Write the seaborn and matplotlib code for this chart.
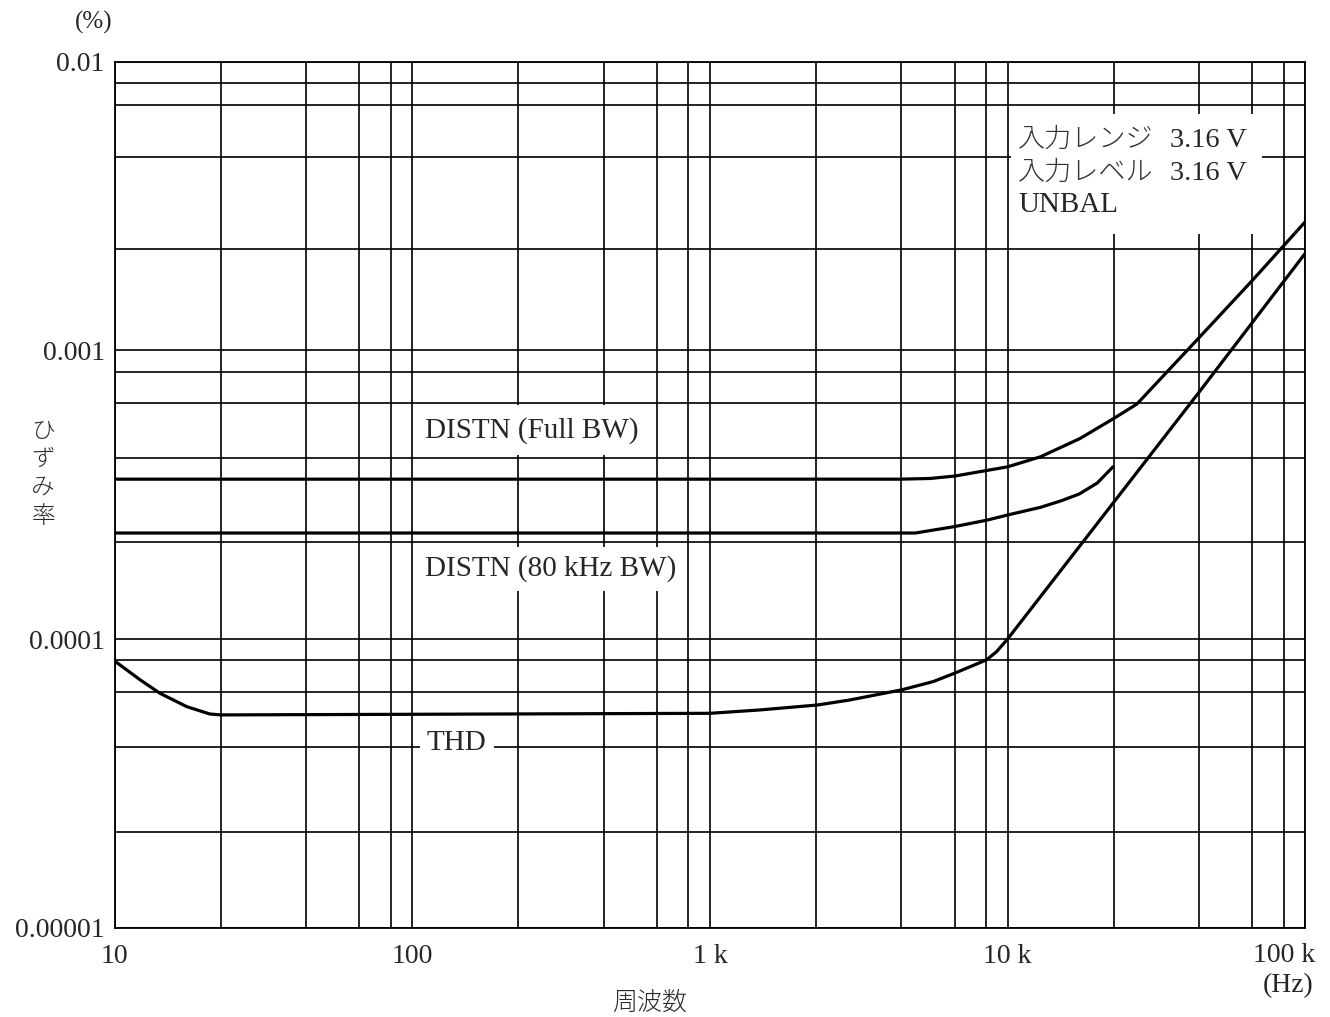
import numpy as np
import pandas as pd
import matplotlib
matplotlib.use('Agg')
import matplotlib.pyplot as plt
from matplotlib.ticker import FixedLocator, NullFormatter
from matplotlib.patches import Rectangle
import seaborn as sns

# Values (frequency in Hz, distortion in %)
freq_full = [10, 4350, 5500, 6650, 10000, 12900, 17500, 22800, 27200, 44100, 66500, 100000]
distn_full = [3.58e-4, 3.58e-4, 3.60e-4, 3.67e-4, 3.95e-4, 4.28e-4, 4.95e-4, 5.82e-4, 6.52e-4, 1.11e-3, 1.75e-3, 2.79e-3]

freq_80k = [10, 4900, 6600, 8500, 10000, 12900, 15100, 17400, 20000, 22600]
distn_80k = [2.33e-4, 2.33e-4, 2.45e-4, 2.58e-4, 2.69e-4, 2.86e-4, 3.01e-4, 3.18e-4, 3.47e-4, 3.95e-4]

freq_thd = [10, 12.2, 14.2, 17.5, 20.9, 22.8, 1000, 1470, 2300, 2950, 4410, 5620, 6650, 8500, 9180, 10000,
            22800, 44100, 100000]
thd = [8.4e-5, 7.22e-5, 6.49e-5, 5.83e-5, 5.50e-5, 5.46e-5, 5.53e-5, 5.68e-5, 5.91e-5, 6.15e-5, 6.67e-5, 7.12e-5,
       7.62e-5, 8.47e-5, 9.04e-5, 1.0e-4, 2.99e-4, 7.19e-4, 2.17e-3]

x_ticks = [10, 100, 1000, 10000, 100000]
x_tick_labels = ['10', '100', '1 k', '10 k', '']
y_ticks = [1e-5, 1e-4, 1e-3, 1e-2]
y_tick_labels = ['0.00001', '0.0001', '0.001', '0.01']

# the printed grid is not a standard log grid, so the lines are placed as drawn
x_grid_steps = [2.275, 4.395, 6.64, 8.47]
y_grid = [8.42e-3, 7.08e-3, 4.66e-3, 2.25e-3,
          8.45e-4, 6.58e-4, 4.25e-4, 2.17e-4,
          8.45e-5, 6.53e-5, 4.24e-5, 2.15e-5]

sns.set_theme(style='white')
plt.rcParams['font.family'] = ['Liberation Serif', 'Noto Sans CJK JP']
plt.rcParams['axes.unicode_minus'] = False

fig = plt.figure(figsize=(13.3, 10.17), dpi=100)
ax = fig.add_axes([0.0861, 0.0878, 0.8953, 0.8515])

# build one long table for seaborn
df = pd.concat([
    pd.DataFrame({'freq': freq_full, 'val': distn_full, 'curve': 'full'}),
    pd.DataFrame({'freq': freq_80k, 'val': distn_80k, 'curve': '80k'}),
    pd.DataFrame({'freq': freq_thd, 'val': thd, 'curve': 'thd'}),
])
sns.lineplot(data=df, x='freq', y='val', units='curve', estimator=None,
             color='black', linewidth=2.3, sort=False, ax=ax, zorder=4)

ax.set_xscale('log')
ax.set_yscale('log')
ax.set_xlim(10, 100000)
ax.set_ylim(1e-5, 1e-2)

x_minor = [d * s for d in [10, 100, 1000, 10000] for s in x_grid_steps]
ax.xaxis.set_major_locator(FixedLocator(x_ticks))
ax.xaxis.set_minor_locator(FixedLocator(x_minor))
ax.yaxis.set_major_locator(FixedLocator(y_ticks))
ax.yaxis.set_minor_locator(FixedLocator(y_grid))
ax.xaxis.set_minor_formatter(NullFormatter())
ax.yaxis.set_minor_formatter(NullFormatter())
ax.set_xticklabels(x_tick_labels, fontsize=20)
ax.set_yticklabels(y_tick_labels, fontsize=20)
ax.tick_params(which='both', length=0)
ax.tick_params(axis='x', pad=12)
ax.tick_params(axis='y', pad=7)

ax.set_axisbelow(True)
ax.grid(which='both', color='black', linewidth=1.2)
for sp in ax.spines.values():
    sp.set_color('black')
    sp.set_linewidth(1.3)
ax.set_xlabel('')
ax.set_ylabel('')

# curve labels with white boxes cutting the grid
ax.text(0.2608, 0.5747, 'DISTN (Full BW)', transform=ax.transAxes, fontsize=21,
        va='center', ha='left', zorder=3,
        bbox=dict(boxstyle='square,pad=0.4', facecolor='white', edgecolor='none'))
ax.text(0.2608, 0.4142, 'DISTN (80 kHz BW)', transform=ax.transAxes, fontsize=21,
        va='center', ha='left', zorder=3,
        bbox=dict(boxstyle='square,pad=0.3', facecolor='white', edgecolor='none'))
ax.text(0.2624, 0.2133, 'THD', transform=ax.transAxes, fontsize=21,
        va='center', ha='left', zorder=3,
        bbox=dict(boxstyle='square,pad=0.25', facecolor='white', edgecolor='none'))

# condition box top right
ax.add_patch(Rectangle((0.7525, 0.801), 0.211, 0.139, transform=ax.transAxes,
                       facecolor='white', edgecolor='none', zorder=3))
jp_kw = dict(transform=ax.transAxes, fontsize=19.5, va='center', ha='left', zorder=4,
             color='#333333', fontweight='light')
ax.text(0.7588, 0.9096, '入力レンジ', **jp_kw)
ax.text(0.7588, 0.8715, '入力レベル', **jp_kw)
ax.text(0.7588, 0.8345, 'UNBAL', transform=ax.transAxes, fontsize=21, va='center', ha='left', zorder=4)
ax.text(0.8864, 0.9096, '3.16 V', transform=ax.transAxes, fontsize=20.5, va='center', ha='left', zorder=4)
ax.text(0.8864, 0.8715, '3.16 V', transform=ax.transAxes, fontsize=20.5, va='center', ha='left', zorder=4)

# axis captions
fig.text(1284 / 1330, 1 - 955 / 1017, '100 k', fontsize=20, ha='center', va='center')
fig.text(94 / 1330, 1 - 22 / 1017, '(%)', fontsize=18, ha='center', va='center')
fig.text(43 / 1330, 1 - 475 / 1017, 'ひ\nず\nみ\n率', fontsize=17, ha='center', va='center',
         linespacing=1.45, color='#2a2a2a', fontweight='light')
fig.text(650 / 1330, 1 - 1003 / 1017, '周波数', fontsize=18, ha='center', va='center',
         color='#2a2a2a', fontweight='light')
fig.text(1288 / 1330, 1 - 986 / 1017, '(Hz)', fontsize=20, ha='center', va='center')

fig.savefig('out.png', dpi=100, facecolor='white')
